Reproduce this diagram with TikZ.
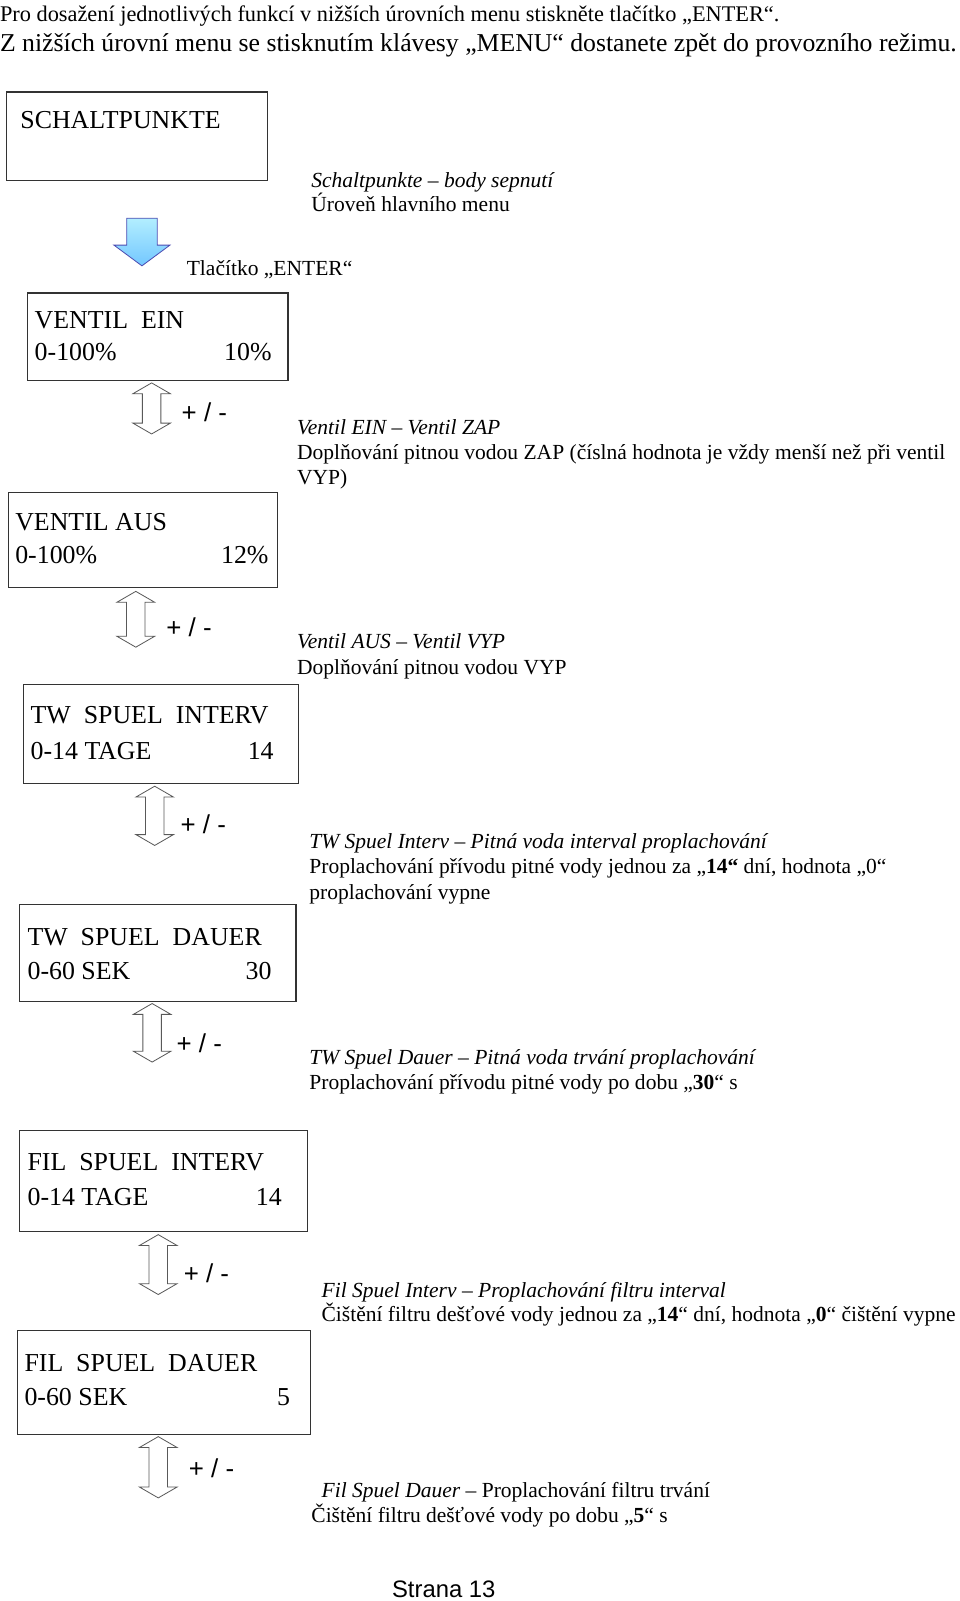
\documentclass[tikz,border=0pt]{standalone}
\usepackage{fontspec}
\setmainfont{Liberation Serif}
\newfontfamily\arialfont{Liberation Sans}
\usetikzlibrary{shapes.arrows}

\begin{document}
\begin{tikzpicture}[
        x=0.75pt, y=-0.75pt,
        every node/.style={inner sep=0pt, outer sep=0pt},
        menubox/.style={rectangle, draw=black!80, line width=0.9pt, anchor=north west},
        boxtxt/.style={font=\fontsize{19}{22}\selectfont, anchor=base west},
        boxval/.style={font=\fontsize{19}{22}\selectfont, anchor=base east},
        desc/.style={font=\fontsize{15.8}{19}\selectfont, anchor=base west, yshift=-5.6pt},
        headline/.style={font=\fontsize{16.4}{19}\selectfont, anchor=base west, yshift=-6pt},
        pm/.style={font=\arialfont\fontsize{19}{22}\selectfont, anchor=base west, yshift=-8pt},
        updown/.style={shape=double arrow, rotate=90, draw=black!65, fill=white, line width=0.6pt,
            inner xsep=0pt, inner ysep=6.5pt, double arrow head extend=7pt, double arrow tip angle=120},
        enter/.style={shape=single arrow, rotate=-90, draw=blue!40!gray, line width=0.6pt,
            top color=blue!22!cyan!30!white, bottom color=blue!40!cyan!55!white,
            inner xsep=0pt, inner ysep=10.9pt, single arrow head extend=9.4pt, single arrow tip angle=107}
    ]
    \useasboundingbox (0,0) rectangle (940,1568);

% Header
        \node[headline] (head1) at (0,13) {Pro dosažení jednotlivých funkcí v nižších úrovních menu stiskněte tlačítko „ENTER“.};
        \node[headline, font=\fontsize{18.9}{22}\selectfont, yshift=-0.5pt] (head2) at (0,42) {Z nižších úrovní menu se stisknutím klávesy „MENU“ dostanete zpět do provozního režimu.};

% Main menu
        \node[menubox, minimum width=192pt, minimum height=65.25pt] (sp) at (6,90) {};
        \node[boxtxt] (sptxt) at (20,126) {SCHALTPUNKTE};
        \node[desc] (spd1) at (305,176) {\textit{Schaltpunkte – body sepnutí}};
        \node[desc] (spd2) at (305,200) {Úroveň hlavního menu};

        \node[enter, minimum height=35pt] (enterarr) at (139,231.5) {};
        \node[desc] (entertxt) at (183,262) {Tlačítko „ENTER“};

% Menu boxes
        \node[menubox, minimum width=191.25pt, minimum height=64.5pt] (vein) at (27,287) {};
        \node[boxtxt] (vein1) at (34,322) {VENTIL\ \ EIN};
        \node[boxtxt] (vein2) at (34,353) {0-100\%};
        \node[boxval] (vein3) at (266,353) {10\%};

        \node[menubox, minimum width=198pt, minimum height=69.75pt] (vaus) at (8,482) {};
        \node[boxtxt] (vaus1) at (15,520) {VENTIL AUS};
        \node[boxtxt] (vaus2) at (15,552) {0-100\%};
        \node[boxval] (vaus3) at (263,552) {12\%};

        \node[menubox, minimum width=201.75pt, minimum height=72.75pt] (twint) at (23,670) {};
        \node[boxtxt] (twint1) at (30,709) {TW\ \ SPUEL\ \ INTERV};
        \node[boxtxt] (twint2) at (30,744) {0-14 TAGE};
        \node[boxval] (twint3) at (268,744) {14};

        \node[menubox, minimum width=203.25pt, minimum height=71.25pt] (twdau) at (19,886) {};
        \node[boxtxt] (twdau1) at (27,926) {TW\ \ SPUEL\ \ DAUER};
        \node[boxtxt] (twdau2) at (27,959) {0-60 SEK};
        \node[boxval] (twdau3) at (266,959) {30};

        \node[menubox, minimum width=211.5pt, minimum height=74.25pt] (filint) at (19,1107) {};
        \node[boxtxt] (filint1) at (27,1146) {FIL\ \ SPUEL\ \ INTERV};
        \node[boxtxt] (filint2) at (27,1181) {0-14 TAGE};
        \node[boxval] (filint3) at (276,1181) {14};

        \node[menubox, minimum width=215.25pt, minimum height=76.5pt] (fildau) at (17,1303) {};
        \node[boxtxt] (fildau1) at (24,1343) {FIL\ \ SPUEL\ \ DAUER};
        \node[boxtxt] (fildau2) at (24,1377) {0-60 SEK};
        \node[boxval] (fildau3) at (284,1377) {5};

% Plus / minus arrows
        \node[updown, minimum height=37.5pt] (pm1) at (148.5,400) {};
        \node[pm] (pm1txt) at (178,402) {+ / -};
        \node[updown, minimum height=41pt] (pm2) at (133,606.5) {};
        \node[pm] (pm2txt) at (163,613) {+ / -};
        \node[updown, minimum height=43.5pt] (pm3) at (151.5,799) {};
        \node[pm] (pm3txt) at (177,806) {+ / -};
        \node[updown, minimum height=43pt] (pm4) at (149,1011.5) {};
        \node[pm] (pm4txt) at (173,1020) {+ / -};
        \node[updown, minimum height=44pt] (pm5) at (155,1238.5) {};
        \node[pm] (pm5txt) at (180,1245) {+ / -};
        \node[updown, minimum height=45pt] (pm6) at (155,1437) {};
        \node[pm] (pm6txt) at (185,1436) {+ / -};

% Descriptions
        \node[desc] (d1a) at (291,418) {\textit{Ventil EIN – Ventil ZAP}};
        \node[desc] (d1b) at (291,443) {Doplňování pitnou vodou ZAP (číslná hodnota je vždy menší než při ventil};
        \node[desc] (d1c) at (291,467) {VYP)};

        \node[desc] (d2a) at (291,628) {\textit{Ventil AUS – Ventil VYP}};
        \node[desc] (d2b) at (291,653) {Doplňování pitnou vodou VYP};

        \node[desc] (d3a) at (303,824) {\textit{TW Spuel Interv – Pitná voda interval proplachování}};
        \node[desc] (d3b) at (303,848) {Proplachování přívodu pitné vody jednou za „\textbf{14“} dní, hodnota „0“};
        \node[desc] (d3c) at (303,873) {proplachování vypne};

        \node[desc] (d4a) at (303,1035) {\textit{TW Spuel Dauer – Pitná voda trvání proplachování}};
        \node[desc] (d4b) at (303,1060) {Proplachování přívodu pitné vody po dobu „\textbf{30}“ s};

        \node[desc] (d5a) at (315,1263) {\textit{Fil Spuel Interv – Proplachování filtru interval}};
        \node[desc] (d5b) at (315,1287) {Čištění filtru dešťové vody jednou za „\textbf{14}“ dní, hodnota „\textbf{0}“ čištění vypne};

        \node[desc] (d6a) at (315,1459) {\textit{Fil Spuel Dauer} – Proplachování filtru trvání};
        \node[desc] (d6b) at (305,1484) {Čištění filtru dešťové vody po dobu „\textbf{5}“ s};

% Footer
        \node[pm, font=\arialfont\fontsize{17.5}{20}\selectfont, yshift=2pt] (page) at (384,1557) {Strana 13};

    \end{tikzpicture}
\end{document}
